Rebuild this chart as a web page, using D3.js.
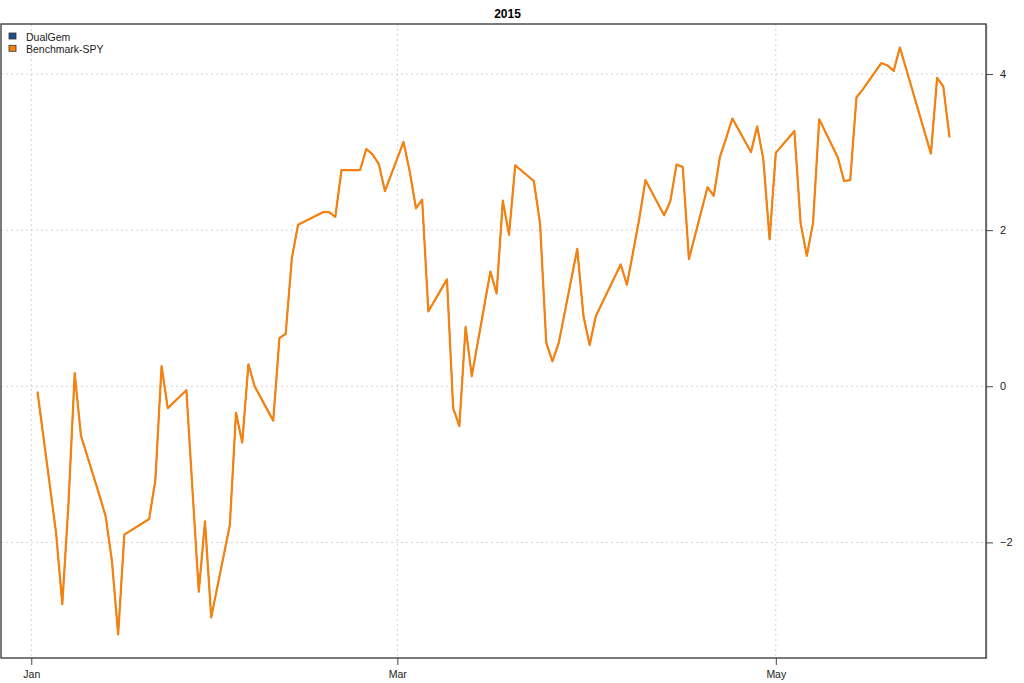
<!DOCTYPE html>
<html><head><meta charset="utf-8">
<script src="https://cdn.jsdelivr.net/npm/d3@7"></script>
<style>
body{margin:0;background:#fff;}
svg{display:block;font-family:"Liberation Sans",Arial,sans-serif;}
</style></head>
<body><svg id="c" width="1024" height="683"></svg>
<script>
const title = "2015";
const seriesNames = ["DualGem", "Benchmark-SPY"];
const seriesColors = ["#1F4E8C", "#F5820F"];
const dates = [
"2015-01-02","2015-01-05","2015-01-06","2015-01-07","2015-01-08","2015-01-09",
"2015-01-12","2015-01-13","2015-01-14","2015-01-15","2015-01-16",
"2015-01-20","2015-01-21","2015-01-22","2015-01-23",
"2015-01-26","2015-01-27","2015-01-28","2015-01-29","2015-01-30",
"2015-02-02","2015-02-03","2015-02-04","2015-02-05","2015-02-06",
"2015-02-09","2015-02-10","2015-02-11","2015-02-12","2015-02-13",
"2015-02-17","2015-02-18","2015-02-19","2015-02-20",
"2015-02-23","2015-02-24","2015-02-25","2015-02-26","2015-02-27",
"2015-03-02","2015-03-03","2015-03-04","2015-03-05","2015-03-06",
"2015-03-09","2015-03-10","2015-03-11","2015-03-12","2015-03-13",
"2015-03-16","2015-03-17","2015-03-18","2015-03-19","2015-03-20",
"2015-03-23","2015-03-24","2015-03-25","2015-03-26","2015-03-27",
"2015-03-30","2015-03-31","2015-04-01","2015-04-02",
"2015-04-06","2015-04-07","2015-04-08","2015-04-09","2015-04-10",
"2015-04-13","2015-04-14","2015-04-15","2015-04-16","2015-04-17",
"2015-04-20","2015-04-21","2015-04-22","2015-04-23","2015-04-24",
"2015-04-27","2015-04-28","2015-04-29","2015-04-30","2015-05-01",
"2015-05-04","2015-05-05","2015-05-06","2015-05-07","2015-05-08",
"2015-05-11","2015-05-12","2015-05-13","2015-05-14","2015-05-15",
"2015-05-18","2015-05-19","2015-05-20","2015-05-21","2015-05-22",
"2015-05-26","2015-05-27","2015-05-28","2015-05-29"];
const spyValues = [
-0.07,-1.88,-2.79,-1.50,0.17,-0.63,
-1.40,-1.67,-2.24,-3.18,-1.90,
-1.70,-1.20,0.26,-0.28,
-0.05,-1.35,-2.63,-1.73,-2.96,
-1.78,-0.34,-0.72,0.28,0.00,
-0.44,0.62,0.67,1.64,2.07,
2.23,2.23,2.17,2.77,
2.77,3.04,2.97,2.85,2.50,
3.13,2.75,2.28,2.39,0.96,
1.37,-0.28,-0.51,0.76,0.13,
1.47,1.19,2.38,1.94,2.83,
2.63,2.09,0.56,0.32,0.55,
1.76,0.90,0.53,0.90,
1.56,1.30,1.72,2.15,2.64,
2.19,2.37,2.84,2.81,1.63,
2.55,2.44,2.94,3.18,3.43,
3.00,3.33,2.90,1.88,2.99,
3.27,2.09,1.67,2.09,3.42,
2.93,2.63,2.64,3.70,3.80,
4.14,4.11,4.04,4.34,4.07,
2.98,3.95,3.84,3.19];
const dualGemValues = [
-0.07,-1.88,-2.79,-1.50,0.17,-0.63,
-1.40,-1.67,-2.24,-3.18,-1.90,
-1.70,-1.20,0.26,-0.28,
-0.05,-1.35,-2.63,-1.73,-2.96,
-1.78,-0.34,-0.72,0.28,0.00,
-0.44,0.62,0.67,1.64,2.07,
2.23,2.23,2.17,2.77,
2.77,3.04,2.97,2.85,2.50,
3.13,2.75,2.28,2.39,0.96,
1.37,-0.28,-0.51,0.76,0.13,
1.47,1.19,2.38,1.94,2.83,
2.63,2.09,0.56,0.32,0.55,
1.76,0.90,0.53,0.90,
1.56,1.30,1.72,2.15,2.64,
2.19,2.37,2.84,2.81,1.63,
2.55,2.44,2.94,3.18,3.43,
3.00,3.33,2.90,1.88,2.99,
3.27,2.09,1.67,2.09,3.42,
2.93,2.63,2.64,3.70,3.80,
4.14,4.11,4.04,4.34,4.07,
2.98,3.95,3.84,3.19];
const xTickDates = ["2015-01-01","2015-03-01","2015-05-01"];
const xTickLabels = ["Jan","Mar","May"];
const yTicks = [-2, 0, 2, 4];

const svg = d3.select("#c");
const parse = d3.utcParse("%Y-%m-%d");
const dts = dates.map(parse);
const L = 1, R = 986, T = 24, B = 658;

const t0 = d3.min(dts), t1 = d3.max(dts);
const span = t1 - t0, padT = span * 0.04;
const x = d3.scaleUtc().domain([new Date(+t0 - padT), new Date(+t1 + padT)]).range([L, R]);
const all = spyValues.concat(dualGemValues);
const [vmin, vmax] = d3.extent(all);
const padV = (vmax - vmin) * 0.04;
const y = d3.scaleLinear().domain([vmin - padV, vmax + padV]).range([B, T]);

// grid
const g = svg.append("g");
g.selectAll("line.hg").data(yTicks).enter().append("line")
  .attr("x1", L).attr("x2", R).attr("y1", d => y(d)).attr("y2", d => y(d))
  .attr("stroke", "#d3d3d3").attr("stroke-width", 1).attr("stroke-dasharray", "2,3");
g.selectAll("line.vg").data(xTickDates).enter().append("line")
  .attr("y1", T).attr("y2", B).attr("x1", d => x(parse(d))).attr("x2", d => x(parse(d)))
  .attr("stroke", "#d3d3d3").attr("stroke-width", 1).attr("stroke-dasharray", "2,3");

// lines
const line = d3.line().x((d, i) => x(dts[i])).y(d => y(d));
svg.append("path").datum(dualGemValues).attr("d", line)
  .attr("fill", "none").attr("stroke", seriesColors[0]).attr("stroke-width", 1.2).attr("stroke-linejoin", "round");
svg.append("path").datum(spyValues).attr("d", line)
  .attr("fill", "none").attr("stroke", seriesColors[1]).attr("stroke-width", 2.2).attr("stroke-linejoin", "round");

// box
svg.append("rect").attr("x", L).attr("y", T).attr("width", R - L).attr("height", B - T)
  .attr("fill", "none").attr("stroke", "#333").attr("stroke-width", 1.3);

// right y axis
const ya = d3.axisRight(y).tickValues(yTicks).tickSize(7).tickSizeOuter(0).tickPadding(7).tickFormat(d3.format("d"));
const yg = svg.append("g").attr("transform", `translate(${R},0)`).call(ya);
yg.select(".domain").attr("stroke", "#666").attr("stroke-width", 1.3);
yg.selectAll(".tick line").attr("stroke", "#444");
yg.selectAll(".tick text").attr("fill", "#222").style("font-size", "11px")
  .style("font-family", '"Liberation Sans",Arial,sans-serif');

// bottom x axis
const xa = d3.axisBottom(x).tickValues(xTickDates.map(parse)).tickSize(7).tickSizeOuter(0).tickPadding(6)
  .tickFormat((d, i) => xTickLabels[i]);
const xg = svg.append("g").attr("transform", `translate(0,${B})`).call(xa);
xg.select(".domain").remove();
xg.selectAll(".tick line").attr("stroke", "#444");
xg.selectAll(".tick text").attr("fill", "#222").style("font-size", "10.5px")
  .style("font-family", '"Liberation Sans Narrow","Liberation Sans",Arial,sans-serif');

// title
svg.append("text").attr("x", (L + R) / 2 + 14).attr("y", 18).attr("text-anchor", "middle")
  .style("font-weight", "bold").style("font-size", "12px").attr("fill", "#000").text(title);

// legend
const lg = svg.append("g").attr("transform", "translate(9,33)");
seriesNames.forEach((n, i) => {
  lg.append("rect").attr("x", 0).attr("y", i * 12.3).attr("width", 7).attr("height", 6)
    .attr("fill", seriesColors[i]).attr("stroke", "#333").attr("stroke-width", 0.8);
  lg.append("text").attr("x", 17).attr("y", i * 12.3 + 7.5).style("font-size", "10.5px")
    .attr("fill", "#222").text(n);
});
</script></body></html>
